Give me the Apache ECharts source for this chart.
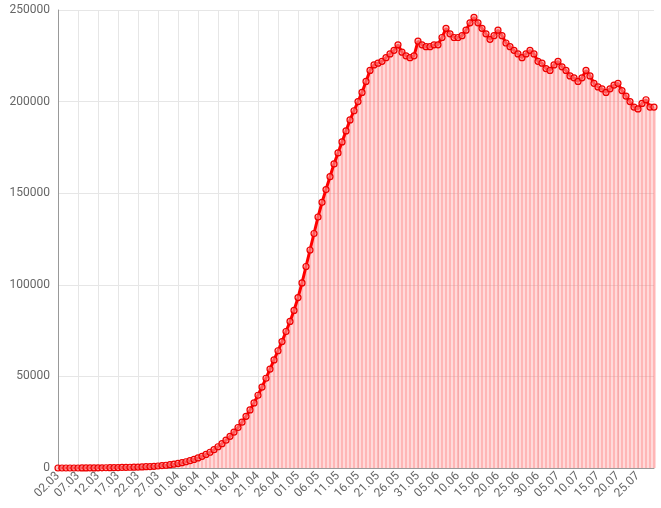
<!DOCTYPE html>
<html><head><meta charset="utf-8">
<script src="https://cdn.jsdelivr.net/npm/echarts@6/dist/echarts.min.js"></script>
<style>html,body{margin:0;padding:0;background:#fff}#box{width:661px;height:508px}</style>
</head><body><div id="box"></div>
<script>
let values = [
  0,0,0,0,0,10,20,30,40,60, 80,100,130,160,200,250,300,350,400,450,
  500,600,700,800,900,1100,1300,1500,1800,2100,
  2500,2900,3400,4000,4700,5500,6400,7400,8600,10000,
  11600,13300,15200,17300,19600,22100,25000,28200,31700,35500,
  39700,44200,49000,54000,59000,64000,69000,74500,80000,86000,
  93000,101000,110000,119000,128000,137000,145000,152000,159000,166000,
  172000,178000,184000,190000,195000,200000,205000,211000,217000,220000,
  221000,222000,224000,226000,228000,231000,227000,225000,224000,225000,
  233000,231000,230000,230000,231000,231000,235000,240000,237000,235000,
  235000,236000,239000,243000,246000,243000,240000,237000,234000,236000,
  239000,236000,232000,230000,228000,226000,224000,226000,228000,226000,
  222000,221000,218000,217000,220000,222000,219000,217000,214000,213000,
  211000,213000,217000,214000,210000,208000,207000,205000,207000,209000,
  210000,206000,203000,200000,197000,196000,199000,201000,197000,197000
];
let monthDays = [[3, 2, 31], [4, 1, 30], [5, 1, 31], [6, 1, 30], [7, 1, 29]];
let dates = [];
monthDays.forEach(function (m) {
  for (let d = m[1]; d <= m[2]; d++) {
    dates.push(String(d).padStart(2, '0') + '.' + String(m[0]).padStart(2, '0'));
  }
});
let chart = echarts.init(document.getElementById('box'));
chart.setOption({
  animation: false,
  grid: {left: 58, right: 7, top: 10, bottom: 40},
  xAxis: {
    type: 'category', data: dates, boundaryGap: false,
    axisLine: {lineStyle: {color: '#999'}},
    axisTick: {show: false},
    axisLabel: {interval: 4, rotate: 45, color: '#666', fontSize: 12, fontFamily: 'Roboto', margin: 6},
    splitLine: {show: true, interval: 4, lineStyle: {color: '#e6e6e6'}}
  },
  yAxis: {
    type: 'value', min: 0, max: 250000, interval: 50000,
    axisLine: {show: true, lineStyle: {color: '#999'}},
    axisLabel: {color: '#666', fontSize: 12, fontFamily: 'Roboto', formatter: function (v) { return String(v); }},
    splitLine: {lineStyle: {color: '#e6e6e6'}}
  },
  series: [
    {type: 'bar', data: values, barWidth: 3, itemStyle: {color: 'rgba(255,110,110,0.5)'}},
    {type: 'line', data: values, symbol: 'circle', symbolSize: 6, showAllSymbol: true,
     lineStyle: {color: '#f00', width: 3},
     itemStyle: {color: 'rgba(255,150,150,0.6)', borderColor: '#e00', borderWidth: 1.2}}
  ]
});
</script></body></html>
